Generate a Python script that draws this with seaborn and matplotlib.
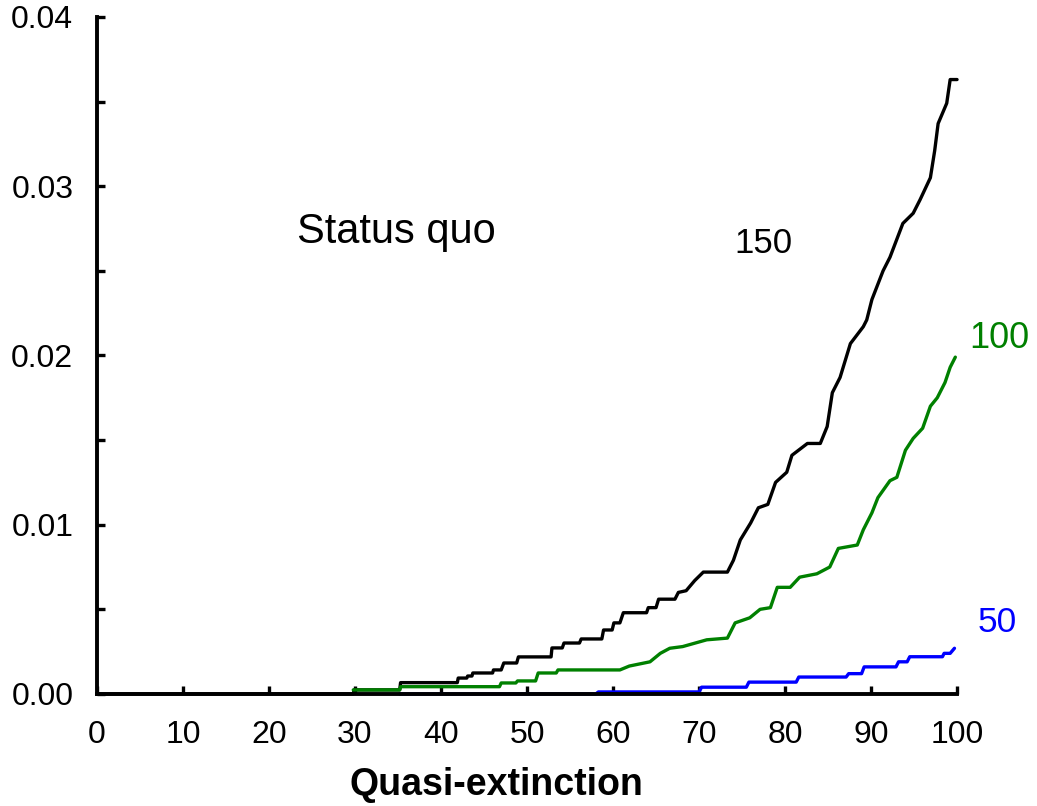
import numpy as np
import pandas as pd
import matplotlib
matplotlib.use("Agg")
import matplotlib.pyplot as plt
import seaborn as sns
from matplotlib.ticker import MultipleLocator, FormatStrFormatter

# cumulative probability of quasi-extinction (polyline vertices)
x_150 = [0, 29.8, 29.9, 35.2, 35.3, 41.9, 42.0, 43.0, 43.1, 43.6, 43.7, 46.0, 46.1,
         47.0, 47.3, 48.8, 49.0, 52.8, 52.9, 54.1, 54.3, 56.1, 56.3, 58.7, 58.9,
         59.9, 60.1, 60.8, 61.2, 63.9, 64.1, 65.0, 65.3, 67.2, 67.6, 68.5, 69.5,
         70.5, 73.3, 74.0, 74.8, 76.0, 76.9, 78.0, 78.9, 80.2, 80.8, 82.6, 84.1,
         84.9, 85.5, 86.4, 87.6, 89.1, 89.5, 90.1, 91.4, 92.2, 93.7, 94.9, 95.7,
         96.9, 97.4, 97.8, 98.8, 99.2, 100.0]
y_150 = [0, 0, 0.00024, 0.00024, 0.00067, 0.00067, 0.00094, 0.00094, 0.00106,
         0.00106, 0.00124, 0.00124, 0.00142, 0.00142, 0.00183, 0.00183, 0.00219,
         0.00219, 0.00272, 0.00272, 0.00301, 0.00301, 0.00325, 0.00325, 0.00378,
         0.00378, 0.0042, 0.0042, 0.0048, 0.0048, 0.0051, 0.0051, 0.0056, 0.0056,
         0.0060, 0.0061, 0.0067, 0.0072, 0.0072, 0.0079, 0.0091, 0.0101, 0.0110,
         0.0112, 0.0125, 0.0131, 0.0141, 0.0148, 0.0148, 0.0158, 0.0178, 0.0187,
         0.0207, 0.0217, 0.0221, 0.0233, 0.0250, 0.0258, 0.0278, 0.0284, 0.0292,
         0.0305, 0.0321, 0.0337, 0.0349, 0.0363, 0.0363]

x_100 = [29.8, 35.2, 35.3, 46.8, 47.0, 48.7, 48.9, 51.0, 51.3, 53.4, 53.6, 60.8,
         61.9, 64.3, 65.5, 66.6, 68.1, 70.9, 73.3, 74.2, 75.9, 77.1, 78.3, 79.1,
         80.6, 81.7, 83.7, 85.2, 86.2, 88.4, 89.1, 90.1, 90.8, 92.2, 93.0, 94.0,
         94.9, 96.0, 96.9, 97.7, 98.6, 99.2, 99.8]
y_100 = [0.00024, 0.00024, 0.00043, 0.00043, 0.00065, 0.00065, 0.00077, 0.00077,
         0.00124, 0.00124, 0.00142, 0.00142, 0.00165, 0.0019, 0.0024, 0.0027,
         0.0028, 0.0032, 0.0033, 0.0042, 0.0045, 0.0050, 0.0051, 0.0063, 0.0063,
         0.0069, 0.0071, 0.0075, 0.0086, 0.0088, 0.0097, 0.0107, 0.0116, 0.0126,
         0.0128, 0.0144, 0.0151, 0.0157, 0.0170, 0.0175, 0.0184, 0.0193, 0.0199]

x_50 = [35.2, 58.0, 58.3, 70.0, 70.3, 75.5, 75.8, 81.3, 81.6, 87.1, 87.4, 88.9,
        89.2, 92.9, 93.2, 94.2, 94.5, 98.3, 98.5, 99.2, 99.7]
y_50 = [0, 0, 0.00012, 0.00012, 0.0004, 0.0004, 0.0007, 0.0007, 0.0010, 0.0010,
        0.0012, 0.0012, 0.0016, 0.0016, 0.0019, 0.0019, 0.0022, 0.0022, 0.0024,
        0.0024, 0.0027]

series = [("150", x_150, y_150, "black"),
          ("100", x_100, y_100, "green"),
          ("50", x_50, y_50, "blue")]

sns.set_style("ticks")
plt.rcParams["font.family"] = ["Liberation Sans", "DejaVu Sans"]
plt.rcParams["text.color"] = "black"

fig = plt.figure(figsize=(10.37, 8.06), dpi=100)
ax = fig.add_axes([0.0935, 0.139, 0.8294, 0.840])

for name, xs, ys, col in series:
    df = pd.DataFrame({"x": xs, "y": ys})
    sns.lineplot(data=df, x="x", y="y", color=col, lw=2.4, sort=False,
                 estimator=None, ax=ax)

ax.text(34.8, 0.0273, "Status quo", fontsize=30, color="black", ha="center", va="center")
ax.text(77.5, 0.0266, "150", fontsize=25, color="black", ha="center", va="center")
ax.text(104.9, 0.0210, "100", fontsize=26, color="green", ha="center", va="center")
ax.text(104.7, 0.0042, "50", fontsize=25.5, color="blue", ha="center", va="center")

ax.set_xlim(0, 100)
ax.set_ylim(0, 0.04)
ax.xaxis.set_major_locator(MultipleLocator(10))
ax.yaxis.set_major_locator(MultipleLocator(0.01))
ax.yaxis.set_minor_locator(MultipleLocator(0.005))
ax.yaxis.set_major_formatter(FormatStrFormatter("%.2f"))

sns.despine(ax=ax)
for s in ("left", "bottom"):
    ax.spines[s].set_linewidth(2.8)
    ax.spines[s].set_color("black")
ax.tick_params(which="both", direction="in", length=6, width=2.4, color="black",
               labelsize=23, labelcolor="black")
ax.tick_params(axis="y", pad=17)
ax.tick_params(axis="x", pad=19)

ax.set_ylabel("")
ax.set_xlabel("Quasi-extinction", fontsize=27, fontweight="bold", color="black")
ax.xaxis.set_label_coords(0.465, -0.108)

for line in ax.lines:
    line.set_clip_on(False)

fig.savefig("out.png", dpi=100)
